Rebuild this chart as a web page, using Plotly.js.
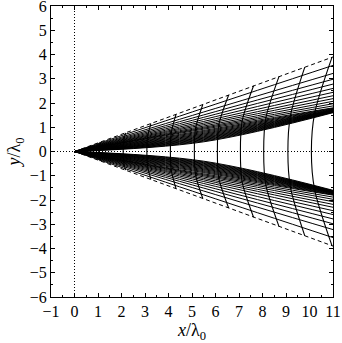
<!DOCTYPE html>
<html><head><meta charset="utf-8">
<script src="https://cdn.plot.ly/plotly-3.0.1.min.js"></script>
<style>html,body{margin:0;padding:0;background:#fff}#chart{width:342px;height:343px}</style>
</head><body><div id="chart"></div>
<script>
// Rays (upper fan; lower fan is the mirror image): y at x = 5.5 and at x = 11
const rayX = [0, 5.5, 11];
const rayMidY = [0.40,0.43,0.46,0.49,0.52,0.55,0.58,0.61,0.645,0.68,0.715,0.75,0.79,0.83,0.87,0.92,
                 0.96,1.00,1.05,1.11,1.17,1.24,1.32,1.41,1.51,1.63,1.79];
const rayEndY = [1.60,1.62,1.63,1.64,1.65,1.66,1.67,1.68,1.69,1.70,1.71,1.72,1.74,1.76,1.78,1.80,
                 1.88,1.97,2.07,2.18,2.30,2.44,2.60,2.78,2.98,3.22,3.55];
// Wavefronts: x on the axis, a point at the top of the bundle, and the end on the dashed edge
const wfAxisX = [1.03,2.07,3.08,4.08,5.10,6.08,7.06,8.05,9.08,10.08];
const wfBandX = [1.04,2.09,3.11,4.12,5.15,6.14,7.13,8.14,9.19,10.22];
const wfBandY = [0.20,0.40,0.60,0.78,0.95,1.10,1.24,1.37,1.48,1.58];
const wfTopX  = [1.10,2.17,3.25,4.32,5.46,6.56,7.62,8.70,9.80,10.96];
const wfTopY  = [0.39,0.77,1.15,1.53,1.94,2.33,2.71,3.09,3.48,3.89];
// Dashed edges of the fan
const edgeX = [0, 11];
const edgeY = [0, 3.9];

const traces = [];
function addRays(sign){
  const xs=[], ys=[];
  for(let i=0;i<rayMidY.length;i++){
    xs.push(rayX[0], rayX[1], rayX[2], null);
    ys.push(0, sign*rayMidY[i], sign*rayEndY[i], null);
  }
  traces.push({x:xs,y:ys,mode:'lines',line:{color:'#000',width:1,shape:'spline'},hoverinfo:'skip'});
}
addRays(1); addRays(-1);
{
  const xs=[], ys=[];
  for(let k=0;k<wfAxisX.length;k++){
    xs.push(wfTopX[k], wfBandX[k], wfAxisX[k], wfBandX[k], wfTopX[k], null);
    ys.push(-wfTopY[k], -wfBandY[k], 0, wfBandY[k], wfTopY[k], null);
  }
  traces.push({x:xs,y:ys,mode:'lines',line:{color:'#000',width:1.1,shape:'spline',smoothing:0.8},hoverinfo:'skip'});
}
traces.push({x:edgeX,y:edgeY,mode:'lines',line:{color:'#000',width:1,dash:'4px,3px'}});
traces.push({x:edgeX,y:edgeY.map(v=>-v),mode:'lines',line:{color:'#000',width:1,dash:'4px,3px'}});
traces.push({x:[0,0],y:[-6,6],mode:'lines',line:{color:'#000',width:1,dash:'1px,2px'}});
traces.push({x:[-1,11],y:[0,0],mode:'lines',line:{color:'#000',width:1,dash:'1px,2px'}});

const fam = 'Liberation Serif';
const font = {family:fam, size:16, color:'#000'};
const axBase = {
  showgrid:false, zeroline:false, showline:true, linecolor:'#000', linewidth:1,
  mirror:'allticks', ticks:'inside', ticklen:4, tickwidth:1, tickcolor:'#000',
  minor:{ticks:'inside', ticklen:2, tickwidth:1, tickcolor:'#000', dtick:0.5},
  tickfont:font, dtick:1, ticklabeloverflow:'allow'
};
const layout = {
  width:342, height:343, showlegend:false,
  font:{family:fam, color:'#000'},
  margin:{l:51, r:9, t:6, b:46},
  paper_bgcolor:'#fff', plot_bgcolor:'#fff',
  xaxis:Object.assign({}, axBase, {range:[-1,11], tick0:-1,
     title:{text:'<i>x</i>/λ<sub>0</sub>', font:{family:fam,size:18,color:'#000'}, standoff:2}}),
  yaxis:Object.assign({}, axBase, {range:[-6,6], tick0:-6,
     title:{text:'<i>y</i>/λ<sub>0</sub>', font:{family:fam,size:18,color:'#000'}, standoff:4}})
};
Plotly.newPlot('chart', traces, layout, {staticPlot:true, displayModeBar:false});
</script>
</body></html>
